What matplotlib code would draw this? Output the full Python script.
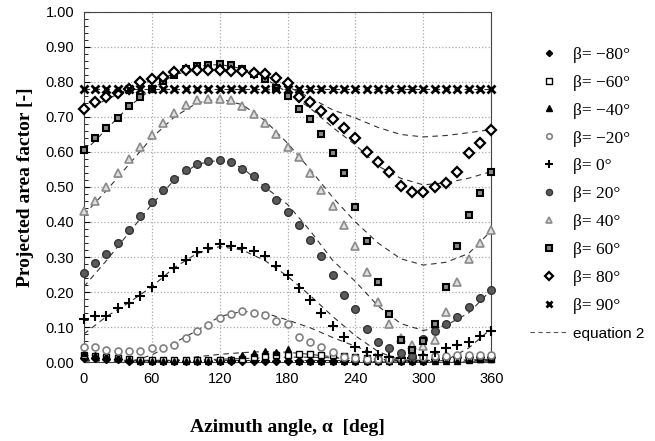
import numpy as np
import matplotlib
matplotlib.use("Agg")
import matplotlib.pyplot as plt
from matplotlib.ticker import MultipleLocator

# === DATA ===
# measured points every 10 deg of azimuth
alpha = np.arange(0, 361, 10)
# equation 2 curves, read every 20 deg
alpha_eq = np.arange(0, 361, 20)

b_m80 = [0.012, 0.012, 0.010, 0.010, 0.004, 0.004, 0.004, 0.004, 0.004, 0.004,
         0.004, 0.004, 0.004, 0.004, 0.004, 0.004, 0.004, 0.004, 0.004, 0.004,
         0.004, 0.004, 0.004, 0.004, 0.004, 0.004, 0.004, 0.004, 0.004, 0.004,
         0.004, 0.008, 0.012, 0.015, 0.015, 0.015, 0.015]
b_m60 = [0.020, 0.018, 0.015, 0.012, 0.008, 0.005, 0.005, 0.005, 0.005, 0.005,
         0.005, 0.005, 0.005, 0.005, 0.010, 0.015, 0.018, 0.020, 0.020, 0.022,
         0.022, 0.020, 0.020, 0.018, 0.015, 0.012, 0.010, 0.010, 0.010, 0.010,
         0.010, 0.010, 0.010, 0.010, 0.010, 0.010, 0.010]
b_m40 = [0.025, 0.020, 0.018, 0.015, 0.008, 0.004, 0.003, 0.003, 0.003, 0.003,
         0.003, 0.003, 0.003, 0.010, 0.020, 0.027, 0.032, 0.030, 0.036, 0.003,
         0.003, 0.003, 0.003, 0.003, 0.003, 0.003, 0.003, 0.003, 0.003, 0.003,
         0.003, 0.003, 0.003, 0.003, 0.005, 0.008, 0.010]
b_m20 = [0.044, 0.042, 0.034, 0.033, 0.033, 0.031, 0.039, 0.039, 0.049, 0.068,
         0.089, 0.106, 0.127, 0.136, 0.146, 0.141, 0.134, 0.118, 0.110, 0.072,
         0.058, 0.044, 0.028, 0.015, 0.012, 0.010, 0.010, 0.010, 0.012, 0.015,
         0.015, 0.018, 0.018, 0.020, 0.020, 0.020, 0.020]
b_0 = [0.122, 0.132, 0.132, 0.155, 0.169, 0.189, 0.213, 0.246, 0.270, 0.291,
       0.313, 0.325, 0.336, 0.331, 0.327, 0.318, 0.303, 0.274, 0.248, 0.212,
       0.177, 0.139, 0.103, 0.072, 0.042, 0.030, 0.020, 0.015, 0.012, 0.012,
       0.020, 0.030, 0.040, 0.049, 0.057, 0.073, 0.088]
b_20 = [0.255, 0.282, 0.308, 0.341, 0.377, 0.417, 0.456, 0.490, 0.522, 0.549,
        0.565, 0.574, 0.576, 0.570, 0.552, 0.530, 0.499, 0.463, 0.428, 0.391,
        0.348, 0.303, 0.248, 0.192, 0.151, 0.095, 0.057, 0.039, 0.025, 0.017,
        0.065, 0.089, 0.108, 0.128, 0.157, 0.184, 0.206]
b_40 = [0.430, 0.460, 0.501, 0.541, 0.579, 0.615, 0.649, 0.682, 0.710, 0.733,
        0.747, 0.752, 0.752, 0.747, 0.731, 0.709, 0.684, 0.651, 0.615, 0.585,
        0.539, 0.490, 0.446, 0.391, 0.332, 0.257, 0.171, 0.110, 0.070, 0.050,
        0.045, 0.064, 0.144, 0.228, 0.293, 0.339, 0.376]
b_60 = [0.605, 0.639, 0.669, 0.696, 0.731, 0.756, 0.781, 0.804, 0.821, 0.838,
        0.846, 0.849, 0.850, 0.847, 0.836, 0.823, 0.808, 0.782, 0.760, 0.722,
        0.694, 0.650, 0.598, 0.540, 0.442, 0.345, 0.230, 0.136, 0.064, 0.034,
        0.060, 0.108, 0.214, 0.331, 0.421, 0.484, 0.544]
b_80 = [0.723, 0.742, 0.758, 0.767, 0.780, 0.799, 0.809, 0.815, 0.828, 0.834,
        0.835, 0.833, 0.833, 0.832, 0.830, 0.826, 0.823, 0.810, 0.796, 0.757,
        0.742, 0.717, 0.693, 0.669, 0.640, 0.601, 0.572, 0.542, 0.504, 0.485,
        0.485, 0.499, 0.511, 0.542, 0.597, 0.627, 0.664]
b_90 = [0.780] * 37

eq_m80 = [0.005] * 19
eq_m60 = [0.008, 0.006, 0.005, 0.005, 0.005, 0.006, 0.008, 0.010, 0.012, 0.014,
          0.014, 0.012, 0.010, 0.008, 0.006, 0.005, 0.005, 0.006, 0.008]
eq_m40 = [0.0, 0.0, 0.0, 0.0, 0.005, 0.015, 0.022, 0.027, 0.030, 0.028,
          0.022, 0.015, 0.005, 0.0, 0.0, 0.0, 0.0, 0.0, 0.0]
eq_m20 = [0.0, 0.0, 0.0, 0.020, 0.055, 0.090, 0.130, 0.145, 0.140, 0.120,
          0.098, 0.070, 0.045, 0.020, 0.0, 0.0, 0.0, 0.0, 0.0]
eq_0 = [0.080, 0.130, 0.170, 0.215, 0.270, 0.310, 0.330, 0.320, 0.290, 0.245,
        0.190, 0.130, 0.075, 0.030, 0.005, 0.0, 0.005, 0.040, 0.095]
eq_20 = [0.215, 0.290, 0.370, 0.450, 0.520, 0.565, 0.577, 0.555, 0.500, 0.450,
         0.375, 0.290, 0.230, 0.160, 0.110, 0.090, 0.105, 0.140, 0.206]
eq_40 = [0.420, 0.490, 0.565, 0.640, 0.700, 0.740, 0.752, 0.735, 0.690, 0.625,
         0.550, 0.470, 0.400, 0.340, 0.295, 0.277, 0.285, 0.310, 0.375]
eq_60 = [0.600, 0.665, 0.730, 0.780, 0.820, 0.845, 0.850, 0.838, 0.810, 0.770,
         0.725, 0.670, 0.620, 0.560, 0.525, 0.506, 0.512, 0.525, 0.544]
eq_80 = [0.715, 0.750, 0.780, 0.805, 0.822, 0.832, 0.835, 0.830, 0.820, 0.787,
         0.755, 0.720, 0.697, 0.670, 0.650, 0.643, 0.647, 0.655, 0.664]
eq_90 = [0.780] * 19

labels = ["β= \u221280°", "β= \u221260°", "β= \u221240°", "β= \u221220°", "β= 0°",
          "β= 20°", "β= 40°", "β= 60°", "β= 80°", "β= 90°"]
points = [b_m80, b_m60, b_m40, b_m20, b_0, b_20, b_40, b_60, b_80, b_90]
curves = [eq_m80, eq_m60, eq_m40, eq_m20, eq_0, eq_20, eq_40, eq_60, eq_80, eq_90]

# marker, size, face, edge, edge width
styles = [
    ("D", 4.0, "black", "black", 1.0),
    ("s", 5.0, "white", "black", 1.0),
    ("^", 5.0, "black", "black", 1.0),
    ("o", 5.0, "white", "#808080", 1.2),
    ("+", 7.5, "black", "black", 1.5),
    ("o", 5.5, "#5a5a5a", "#333333", 1.0),
    ("^", 6.0, "#e0e0e0", "#8a8a8a", 1.2),
    ("s", 5.0, "#8a8a8a", "black", 1.5),
    ("D", 4.6, "white", "black", 1.6),
    ("x", 6.0, "black", "black", 2.0),
]

# === PLOT ===
fig = plt.figure(figsize=(6.55, 4.41), dpi=100)
ax = fig.add_axes([0.128, 0.179, 0.622, 0.794])

for eq in curves:
    ax.plot(alpha_eq, eq, color="#333333", lw=0.8, ls=(0, (5, 4)), zorder=2)

handles = []
for vals, lab, (m, s, fc, ec, mew) in zip(points, labels, styles):
    h, = ax.plot(alpha, vals, ls="none", marker=m, ms=s, mfc=fc, mec=ec,
                 mew=mew, label=lab, clip_on=False, zorder=3)
    handles.append(h)
eq_h, = ax.plot([], [], color="#555555", lw=0.8, ls=(0, (4, 3)), label="equation 2")
handles.append(eq_h)

ax.set_xlim(0, 360)
ax.set_ylim(0, 1.0)
ax.xaxis.set_major_locator(MultipleLocator(60))
ax.yaxis.set_major_locator(MultipleLocator(0.1))
ax.yaxis.set_minor_locator(MultipleLocator(0.02))
ax.yaxis.set_major_formatter(matplotlib.ticker.FormatStrFormatter("%.2f"))
ax.tick_params(which="both", direction="in", labelsize=10.5, pad=7)
ax.tick_params(which="minor", length=3)
ax.tick_params(which="major", length=4)
for t in ax.get_xticklabels() + ax.get_yticklabels():
    t.set_fontfamily("Liberation Sans")
ax.grid(True, which="major", color="#aaaaaa", ls=":", lw=0.9)
for sp in ax.spines.values():
    sp.set_color("#444444")

ax.set_xlabel("Azimuth angle, α  [deg]", fontfamily="Liberation Serif",
              fontweight="bold", fontsize=14, labelpad=24)
ax.set_ylabel("Projected area factor [-]", fontfamily="Liberation Serif",
              fontweight="bold", fontsize=14, labelpad=8)

leg = fig.legend(handles=handles, loc="upper left", bbox_to_anchor=(0.785, 0.93),
                 frameon=False, prop={"family": "Liberation Serif", "size": 12.5},
                 labelspacing=0.68, handlelength=2.2, handletextpad=0.3,
                 markerscale=0.8)
leg.get_texts()[-1].set_fontfamily("Liberation Sans")
leg.get_texts()[-1].set_fontsize(11)

fig.savefig("out.png", dpi=100)
